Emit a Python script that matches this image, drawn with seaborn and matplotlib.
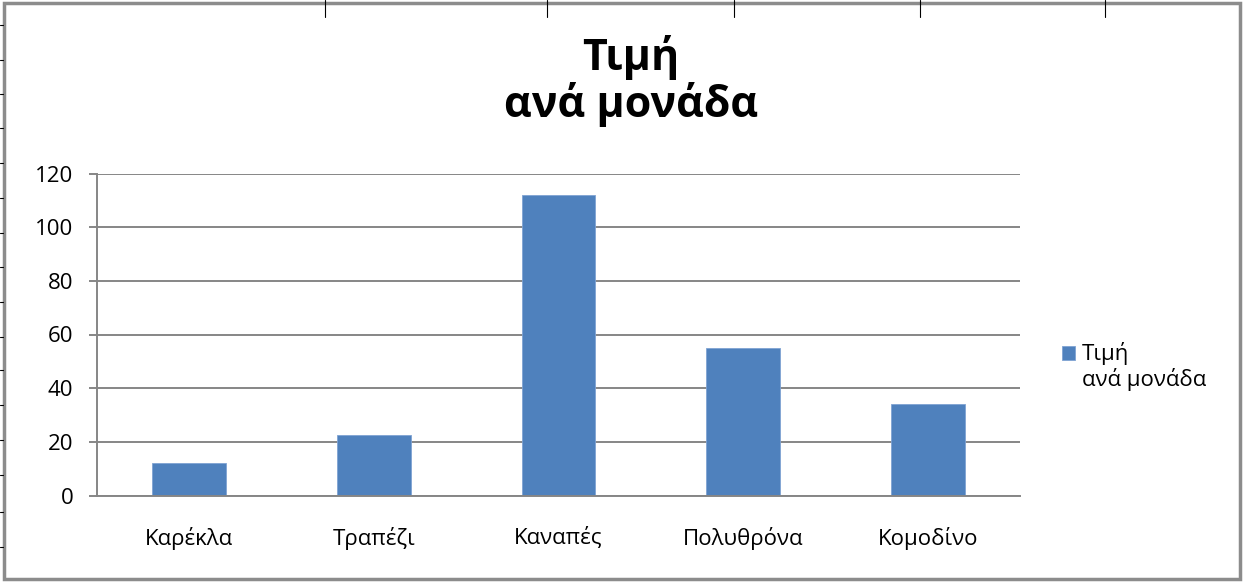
import matplotlib
matplotlib.use("Agg")
import matplotlib.pyplot as plt
import seaborn as sns
import pandas as pd
from matplotlib.patches import Rectangle
from matplotlib.lines import Line2D

# chart data
categories = ["Καρέκλα", "Τραπέζι", "Καναπές", "Πολυθρόνα", "Κομοδίνο"]
values = [12, 22.5, 112, 55, 34]
series_name = "Τιμή\nανά μονάδα"
y_ticks = [0, 20, 40, 60, 80, 100, 120]

df = pd.DataFrame({"Είδος": categories, "Τιμή": values})

sns.set_style("white")
plt.rcParams["font.family"] = ["Open Sans", "Noto Sans", "DejaVu Sans"]
plt.rcParams["text.color"] = "black"

grid_col = "#868686"
bar_col = "#4F81BD"
fs = 16

fig = plt.figure(figsize=(12.43, 5.83), dpi=100)
ax = fig.add_axes([97 / 1243, 87.5 / 583, 923 / 1243, 322 / 583])

sns.barplot(data=df, x="Είδος", y="Τιμή", color=bar_col, width=0.4,
            saturation=1, label=series_name, ax=ax, edgecolor="#7fa3d3", linewidth=0.6)

ax.set_ylim(0, 120)
ax.set_xlim(-0.5, len(categories) - 0.5)
ax.set_yticks(y_ticks)
ax.set_xlabel("")
ax.set_ylabel("")
ax.yaxis.grid(True, color=grid_col, linewidth=1.4)
ax.set_axisbelow(True)

for s in ["top", "right"]:
    ax.spines[s].set_visible(False)
for s in ["left", "bottom"]:
    ax.spines[s].set_color(grid_col)
    ax.spines[s].set_linewidth(1.4)

ax.set_xticks([i + 0.5 for i in range(-1, len(categories))], minor=True)
ax.tick_params(axis="x", which="major", length=0, pad=23, labelsize=fs, labelcolor="black")
ax.tick_params(axis="x", which="minor", length=6, width=1.4, color=grid_col, direction="out")
ax.tick_params(axis="y", which="major", length=6, width=1.4, color=grid_col,
               direction="out", left=True, pad=11, labelsize=fs, labelcolor="black")

leg = ax.legend(loc="upper left", bbox_to_anchor=(1046 / 1243, 1 - 326 / 583),
                bbox_transform=fig.transFigure, frameon=False, fontsize=fs,
                handlelength=0.6, handleheight=0.6, handletextpad=0.3,
                borderpad=0.2, labelspacing=0.2)
# put the swatch beside the first line of the two-line label
h = leg.legend_handles[0]
h.set_y(h.get_y() + fs * 1.2 / 2)
for t in leg.get_texts():
    t.set_linespacing(1.2)

fig.text(631 / 1243, 1 - 81 / 583, "Τιμή\nανά μονάδα", ha="center", va="center",
         fontsize=31, fontweight="bold", linespacing=1.08, color="black")

# chart frame and surrounding sheet lines
fig.add_artist(Rectangle((4 / 1243, 4 / 583), 1236 / 1243, 576 / 583,
                         transform=fig.transFigure, fill=False,
                         edgecolor="#8c8c8c", linewidth=2.5))
for xp in [325, 547, 734, 920, 1105]:
    fig.add_artist(Line2D([xp / 1243, xp / 1243], [1, 1 - 17 / 583],
                          transform=fig.transFigure, color="black", linewidth=0.8))
for yp in [25, 60, 94, 128, 163, 198, 233, 267, 302, 337, 370, 405, 440, 475, 512, 547]:
    fig.add_artist(Line2D([0, 3 / 1243], [1 - yp / 583, 1 - yp / 583],
                          transform=fig.transFigure, color="black", linewidth=0.8))

fig.savefig("out.png", dpi=100, facecolor="white")
